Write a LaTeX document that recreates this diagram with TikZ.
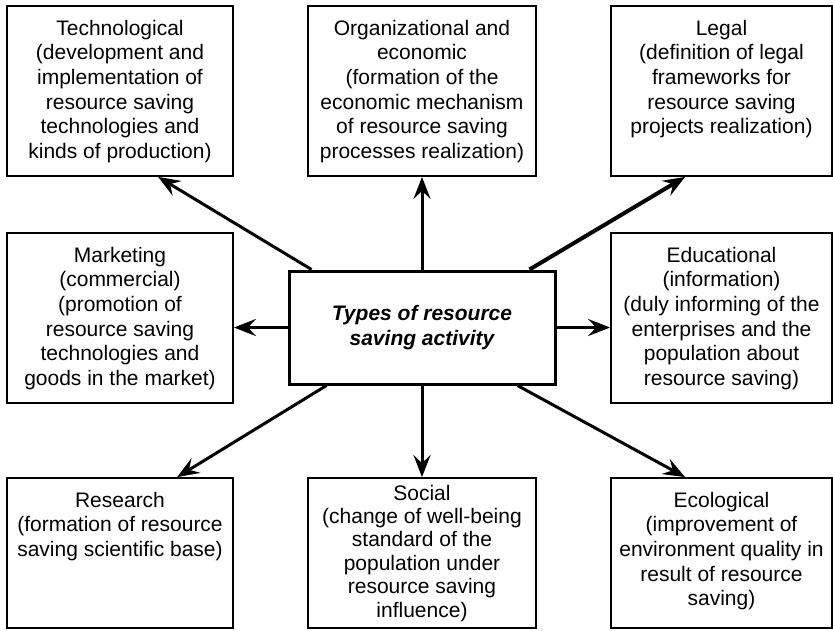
\documentclass[tikz,border=0pt]{standalone}
\usepackage{fontspec}
\setmainfont{Liberation Sans}
\usetikzlibrary{arrows.meta}

\newcommand{\boxlines}[1]{\parbox[t]{218pt}{\centering #1}}

\begin{document}
\begin{tikzpicture}[
  x=1pt, y=-1pt,
  every node/.style = {font=\fontsize{21}{24.7}\selectfont},
  kindbox/.style = {rectangle, draw, line width=1.8pt, inner sep=0pt,
                    minimum width=#1, text height=29pt, text depth=141pt},
  lowbox/.style  = {kindbox=#1, text depth=121pt},
  hubbox/.style  = {rectangle, draw, line width=3pt, inner sep=0pt,
                    minimum width=266pt, minimum height=113pt,
                    align=center,
                    font=\fontsize{21}{24.7}\selectfont\bfseries\itshape},
  arr/.style = {-{Stealth[length=22pt, width=17pt, inset=8pt]},
                line width=3pt},
]
\useasboundingbox (0,0) rectangle (833,630);

%% ── Top row ──────────────────────────────────────────────────────────────
\node[kindbox=226pt] at (120, 91) (tech) {\boxlines{
  Technological\\(development and\\implementation of\\resource saving\\
  technologies and\\kinds of production)}};
\node[kindbox=228pt] at (422, 91) (org) {\boxlines{
  Organizational and\\economic\\(formation of the\\economic mechanism\\
  of resource saving\\processes realization)}};
\node[kindbox=221pt] at (721.5, 91) (legal) {\boxlines{
  Legal\\(definition of legal\\frameworks for\\resource saving\\
  projects realization)}};

%% ── Middle row ───────────────────────────────────────────────────────────
\node[kindbox=226pt] at (120, 318) (market) {\boxlines{
  Marketing\\(commercial)\\(promotion of\\resource saving\\
  technologies and\\goods in the market)}};
\node[hubbox] at (422, 327.5) (hub) {Types of resource\\saving activity};
\node[kindbox=221pt] at (721.5, 318) (edu) {\boxlines{
  Educational\\(information)\\(duly informing of the\\enterprises and the\\
  population about\\resource saving)}};

%% ── Bottom row ───────────────────────────────────────────────────────────
\node[lowbox=226pt] at (120, 553) (research) {\boxlines{
  Research\\(formation of resource\\saving scientific base)}};
\node[lowbox=228pt, text height=22pt, text depth=128pt,
      font=\fontsize{21}{23.4}\selectfont]
  at (422, 553) (social) {\boxlines{
  Social\\(change of well-being\\standard of the\\population under\\
  resource saving\\influence)}};
\node[lowbox=221pt] at (721.5, 553) (eco) {\boxlines{
  Ecological\\(improvement of\\environment quality in\\result of resource\\
  saving)}};

%% ── Arrows out of the hub ────────────────────────────────────────────────
\draw[arr] ([xshift=24pt]hub.north west)  -- ([xshift=152pt]tech.south west);
\draw[arr] (hub.north) -- (org.south);
\draw[arr, line width=4pt]
           ([xshift=-27pt]hub.north east) -- ([xshift=75pt]legal.south west);
\draw[arr] (hub.west) -- (hub.west -| market.east);
\draw[arr] (hub.east) -- (hub.east -| edu.west);
\draw[arr] ([xshift=39pt]hub.south west)  -- ([xshift=171pt]research.north west);
\draw[arr] (hub.south) -- (social.north);
\draw[arr] ([xshift=-39pt]hub.south east) -- ([xshift=75pt]eco.north west);

\end{tikzpicture}
\end{document}
